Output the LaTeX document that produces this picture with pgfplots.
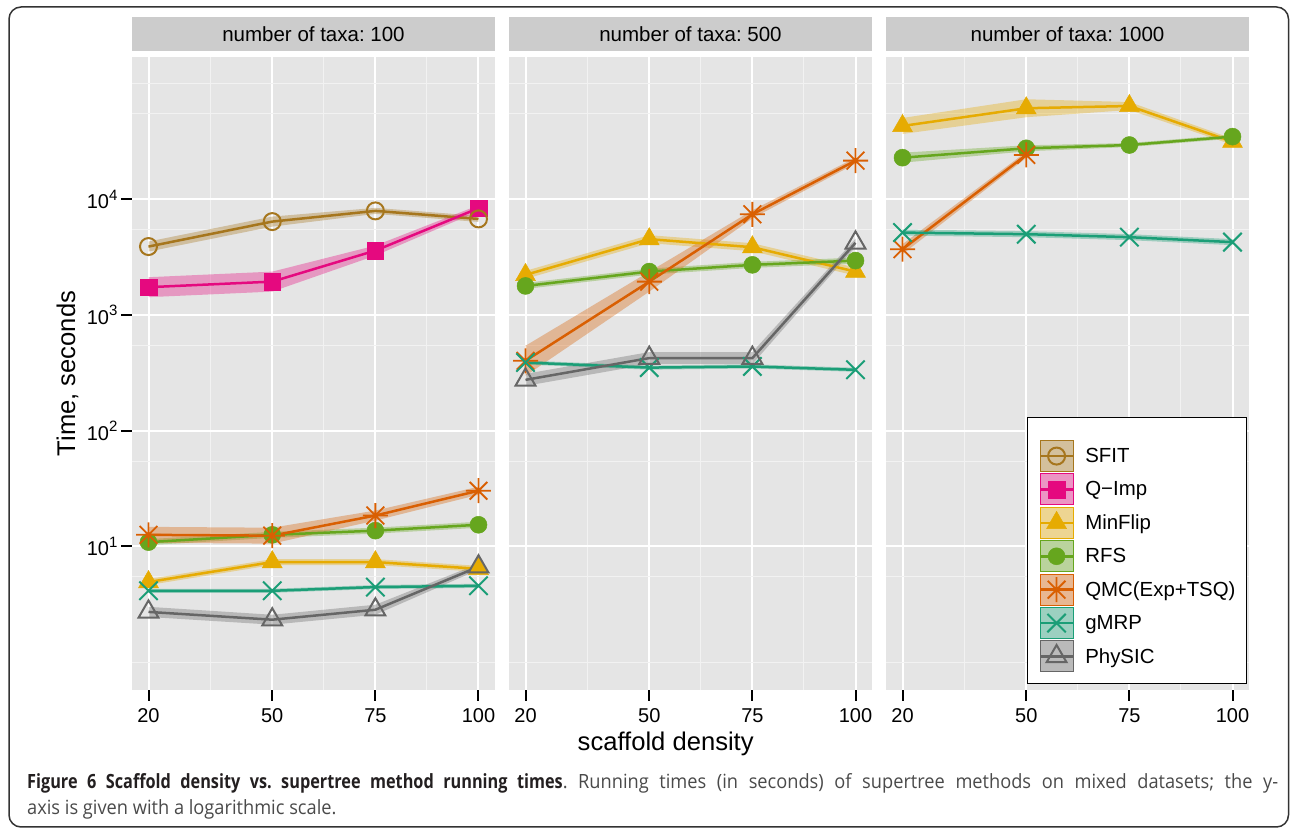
\documentclass[border=0pt]{standalone}
\usepackage{fontspec}
\setmainfont{Liberation Sans}
\newfontfamily\capfont[FakeStretch=0.93, BoldFeatures={FakeStretch=0.83}]{Open Sans}
\usepackage{graphicx}
\usepackage{pgfplots}
\usepackage{pgfplotstable}
\pgfplotsset{compat=1.18}

\definecolor{bgC}{HTML}{E5E5E5}
\definecolor{stripC}{HTML}{CCCCCC}
\definecolor{minorC}{HTML}{F2F2F2}
\definecolor{sfitC}{HTML}{A6761D}
\definecolor{qimpC}{HTML}{E5097F}
\definecolor{mfC}{HTML}{E6AB02}
\definecolor{rfsC}{HTML}{66A61E}
\definecolor{qmcC}{HTML}{D95F02}
\definecolor{gmC}{HTML}{1B9E77}
\definecolor{phC}{HTML}{666666}
\definecolor{capgray}{HTML}{4A4A4A}
\definecolor{capblack}{HTML}{231F20}

\pgfdeclareplotmark{ast8}{%
  \pgfpathmoveto{\pgfqpoint{-\pgfplotmarksize}{0pt}}%
  \pgfpathlineto{\pgfqpoint{\pgfplotmarksize}{0pt}}%
  \pgfpathmoveto{\pgfqpoint{0pt}{-\pgfplotmarksize}}%
  \pgfpathlineto{\pgfqpoint{0pt}{\pgfplotmarksize}}%
  \pgfpathmoveto{\pgfqpoint{-.7071\pgfplotmarksize}{-.7071\pgfplotmarksize}}%
  \pgfpathlineto{\pgfqpoint{.7071\pgfplotmarksize}{.7071\pgfplotmarksize}}%
  \pgfpathmoveto{\pgfqpoint{-.7071\pgfplotmarksize}{.7071\pgfplotmarksize}}%
  \pgfpathlineto{\pgfqpoint{.7071\pgfplotmarksize}{-.7071\pgfplotmarksize}}%
  \pgfusepathqstroke}

% panel: number of taxa 100 (medians)
\pgfplotstableread{
x sfit qimp mf rfs qmc gm ph
20 3900 1738 4.93 10.9 12.6 4.14 2.72
50 6410 1942 7.33 12.6 12.4 4.14 2.33
75 7930 3600 7.33 13.7 18.5 4.46 2.84
100 6760 8360 6.41 15.4 30.3 4.57 6.68
}\tA
% panel: number of taxa 500
\pgfplotstableread{
x mf rfs qmc gm ph
20 2220 1782 402 388 275
50 4520 2370 1941 351 424
75 3850 2710 7410 359 424
100 2370 2950 21550 336 4200
}\tB
% panel: number of taxa 1000
\pgfplotstableread{
x mf rfs gm
20 42960 22850 5150
50 61100 27550 4990
75 63900 29400 4700
100 31400 34750 4260
}\tC
\pgfplotstableread{
x qmc
20 3700
50 24150
}\tCq

\tikzset{
 sfitM/.style={sfitC, mark=o, mark size=8.5pt, mark options={line width=2pt, fill=none}},
 qimpM/.style={qimpC, mark=square*, mark size=8.3pt, mark options={line width=0.5pt}},
 mfM/.style={mfC, mark=triangle*, mark size=11.5pt, mark options={line width=0.5pt}},
 rfsM/.style={rfsC, mark=*, mark size=8.5pt, mark options={line width=0.5pt}},
 qmcM/.style={qmcC, mark=ast8, mark size=12.5pt, mark options={line width=1.8pt}},
 gmM/.style={gmC, mark=x, mark size=13pt, mark options={line width=2pt}},
 phM/.style={phC, mark=triangle, mark size=11.5pt, mark options={line width=2pt, fill=none}},
}

\newcommand\band[2]{\addplot[fill=#1, fill opacity=0.35, draw=none, forget plot] coordinates {#2};}
\newcommand\serline[3]{\addplot[#3, line width=2.5pt, forget plot] table[x=x,y=#2]{#1};}
\newcommand\sermark[3]{\addplot[#3, only marks, forget plot] table[x=x,y=#2]{#1};}
\newcommand\ep[1]{10\raisebox{8.5pt}{\fontsize{15}{15}\selectfont #1}}
\newcommand\legimg[3]{%
 \addlegendimage{legend image code/.code={%
   #3%
   \fill[black!5] (0pt,-15.5pt) rectangle (33pt,15.5pt);
   \fill[#1, fill opacity=0.4] (0pt,-15.5pt) rectangle (33pt,15.5pt);
   \draw[#2, line width=2.5pt, mark repeat=2, mark phase=2] plot coordinates {(0pt,0pt) (16.5pt,0pt) (33pt,0pt)};
 }}}

\pgfplotsset{
 every axis/.append style={
  width=363pt, height=633pt, scale only axis,
  xmin=16, xmax=104, ymin=0.5754, ymax=169400,
  axis background/.style={fill=bgC},
  axis line style={draw=none},
  xtick={20,50,75,100}, xticklabels={20,50,75,100},
  minor xtick={35,62.5,87.5},
  ytick={10,100,1000,10000},
  minor ytick={1,5.47,54.7,547,5470,54700,100000},
  grid=both,
  major grid style={white, line width=2pt},
  minor grid style={minorC, line width=1pt},
  tick align=outside, xtick pos=left, ytick pos=left,
  major tick length=11pt, minor tick length=0pt,
  major tick style={black, line width=2pt},
  tick label style={font=\fontsize{20}{24}\selectfont},
  title style={at={(0.5,1)}, anchor=south, yshift=0pt, fill=stripC,
    minimum width=363pt, minimum height=34pt, inner sep=0pt,
    font=\fontsize{20.5}{24}\selectfont},
 }
}

\begin{document}
\frenchspacing
\begin{tikzpicture}
\useasboundingbox (0pt,0pt) rectangle (1290pt,829pt);

\begin{semilogyaxis}[at={(132pt,139pt)}, anchor=south west, title={number of taxa: 100},
  xticklabel style={yshift=-4pt},
  yticklabels={{\ep{1}},{\ep{2}},{\ep{3}},{\ep{4}}}]
\band{sfitC}{(20,4310)(50,7080)(75,8420)(100,7180)(100,6370)(75,7470)(50,5800)(20,3530)}
\band{qimpC}{(20,2120)(50,2369)(75,3978)(100,8874)(100,7876)(75,3258)(50,1592)(20,1425)}
\band{mfC}{(20,5.23)(50,7.78)(75,7.78)(100,6.80)(100,6.04)(75,6.91)(50,6.91)(20,4.64)}
\band{rfsC}{(20,11.57)(50,13.37)(75,14.54)(100,16.35)(100,14.51)(75,12.91)(50,11.87)(20,10.27)}
\band{qmcC}{(20,14.77)(50,14.53)(75,20.44)(100,32.81)(100,27.98)(75,16.74)(50,10.58)(20,10.75)}
\band{gmC}{(20,4.31)(50,4.31)(75,4.64)(100,4.76)(100,4.39)(75,4.29)(50,3.98)(20,3.98)}
\band{phC}{(20,3.01)(50,2.57)(75,3.14)(100,7.09)(100,6.29)(75,2.57)(50,2.11)(20,2.46)}
\serline{\tA}{sfit}{sfitC}
\serline{\tA}{qimp}{qimpC}
\serline{\tA}{mf}{mfC}
\serline{\tA}{rfs}{rfsC}
\serline{\tA}{qmc}{qmcC}
\serline{\tA}{gm}{gmC}
\serline{\tA}{ph}{phC}
\sermark{\tA}{qimp}{qimpM}
\sermark{\tA}{sfit}{sfitM}
\sermark{\tA}{mf}{mfM}
\sermark{\tA}{rfs}{rfsM}
\sermark{\tA}{qmc}{qmcM}
\sermark{\tA}{gm}{gmM}
\sermark{\tA}{ph}{phM}
\end{semilogyaxis}

\begin{semilogyaxis}[at={(509pt,139pt)}, anchor=south west, title={number of taxa: 500},
  yticklabels={}, major tick length=0pt, xticklabel style={yshift=-15pt},
  extra x ticks={20,50,75,100},
  extra x tick labels={}, extra tick style={major tick length=11pt, grid=none}]
\band{mfC}{(20,2404)(50,4895)(75,4170)(100,2567)(100,2188)(75,3555)(50,4174)(20,2050)}
\band{rfsC}{(20,1892)(50,2516)(75,2877)(100,3131)(100,2779)(75,2553)(50,2233)(20,1679)}
\band{qmcC}{(20,542)(50,2368)(75,8025)(100,22875)(100,20300)(75,6842)(50,1591)(20,298)}
\band{gmC}{(20,404)(50,365)(75,374)(100,350)(100,323)(75,345)(50,337)(20,373)}
\band{phC}{(20,310)(50,478)(75,478)(100,4549)(100,3878)(75,376)(50,376)(20,244)}
\serline{\tB}{mf}{mfC}
\serline{\tB}{rfs}{rfsC}
\serline{\tB}{qmc}{qmcC}
\serline{\tB}{gm}{gmC}
\serline{\tB}{ph}{phC}
\sermark{\tB}{mf}{mfM}
\sermark{\tB}{rfs}{rfsM}
\sermark{\tB}{qmc}{qmcM}
\sermark{\tB}{gm}{gmM}
\sermark{\tB}{ph}{phM}
\end{semilogyaxis}

\begin{semilogyaxis}[at={(886pt,139pt)}, anchor=south west, title={number of taxa: 1000},
  yticklabels={}, major tick length=0pt, xticklabel style={yshift=-15pt},
  extra x ticks={20,50,75,100},
  extra x tick labels={}, extra tick style={major tick length=11pt, grid=none},
  legend style={at={(rel axis cs:0.9945,0.0095)}, anchor=south east,
    draw=black, line width=1pt, fill=white, inner xsep=11pt, inner ysep=11pt,
    row sep=1.4pt, column sep=11pt, font=\fontsize{20.4}{24}\selectfont,
    nodes={inner sep=0pt}},
  legend cell align=left]
\band{mfC}{(20,50350)(50,73080)(75,69200)(100,33330)(100,29580)(75,59000)(50,51090)(20,36650)}
\band{rfsC}{(20,25250)(50,29240)(75,30590)(100,36160)(100,33390)(75,28250)(50,25950)(20,20680)}
\band{qmcC}{(20,4090)(50,25640)(50,22750)(20,3350)}
\band{gmC}{(20,5470)(50,5300)(75,4990)(100,4520)(100,4010)(75,4430)(50,4700)(20,4850)}
\serline{\tC}{mf}{mfC}
\serline{\tC}{rfs}{rfsC}
\serline{\tCq}{qmc}{qmcC}
\serline{\tC}{gm}{gmC}
\sermark{\tC}{mf}{mfM}
\sermark{\tC}{rfs}{rfsM}
\sermark{\tCq}{qmc}{qmcM}
\sermark{\tC}{gm}{gmM}
\legimg{sfitC}{sfitM}{\path (0pt,27.5pt);}
\addlegendentry{SFIT}
\legimg{qimpC}{qimpM}{}
\addlegendentry{Q−Imp}
\legimg{mfC}{mfM}{}
\addlegendentry{MinFlip}
\legimg{rfsC}{rfsM}{}
\addlegendentry{RFS}
\legimg{qmcC}{qmcM}{}
\addlegendentry{QMC(Exp+TSQ)}
\legimg{gmC}{gmM}{}
\addlegendentry{gMRP}
\legimg{phC}{phM}{}
\addlegendentry{PhySIC}
\end{semilogyaxis}

\node[rotate=90, anchor=base, font=\fontsize{25.6}{30}\selectfont] at (75pt,455.5pt) {Time, seconds};
\node[anchor=base, font=\fontsize{25.6}{30}\selectfont] at (665.7pt,78pt) {scaffold density};

\node[anchor=base west, inner sep=0pt] at (27pt,40pt) {\capfont\fontsize{19.6}{24}\selectfont\frenchspacing
  \makebox[1251pt][s]{\textcolor{capblack}{\bfseries Figure 6 Scaffold density vs.\ supertree method running times}\textcolor{capgray}{. Running times (in seconds) of supertree methods on mixed datasets; the y-}}};
\node[anchor=base west, inner sep=0pt] at (27pt,14pt) {\capfont\fontsize{19.6}{24}\selectfont
  \textcolor{capgray}{axis is given with a logarithmic scale.}};

\draw[line width=1.5pt, black!80, rounded corners=12pt] (9pt,2pt) rectangle (1288.5pt,822pt);
\end{tikzpicture}
\end{document}
